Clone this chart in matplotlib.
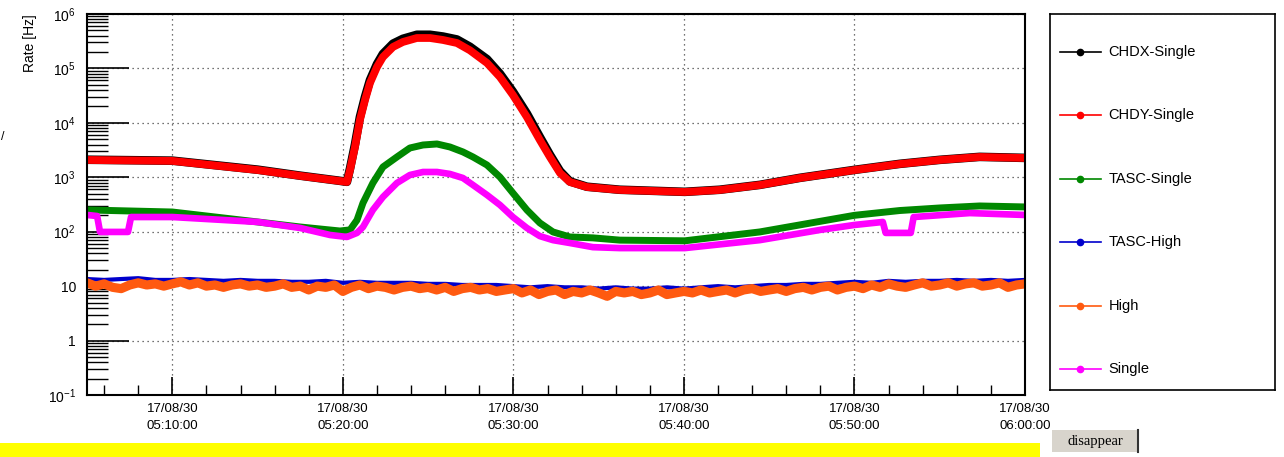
import datetime as dt
import matplotlib
matplotlib.use('Agg')
import matplotlib.pyplot as plt
import matplotlib.dates as mdates
from matplotlib.patches import Rectangle

plt.rcParams['font.family'] = ['Liberation Sans', 'DejaVu Sans']
plt.rcParams['mathtext.fontset'] = 'custom'
plt.rcParams['mathtext.rm'] = 'Liberation Sans'
plt.rcParams['mathtext.it'] = 'Liberation Sans:italic'
plt.rcParams['mathtext.bf'] = 'Liberation Sans:bold'

# rate history, minutes after 05:00 on 17/08/30
t_chd = [5.0, 10.0, 15.0, 17.5, 19.83, 20.24, 20.42, 20.71, 21.0, 21.3,
         21.59, 22.0, 22.35, 22.94, 23.52, 24.34, 25.11, 25.87, 26.69, 27.45,
         28.45, 29.21, 29.97, 30.79, 31.55, 32.14, 32.73, 33.31, 34.31, 36.24,
         40.05, 42.1, 44.45, 46.79, 50.02, 52.66, 55.0, 57.34, 60.0]
chdy = [2080, 2000, 1360, 1060, 855, 819, 1360, 3600, 11300, 26300,
        54000, 106000, 162000, 248000, 306000, 362000, 362000, 333000, 293000, 215000,
        126000, 69600, 32500, 12800, 4840, 2360, 1200, 819, 663, 585,
        537, 585, 721, 970, 1360, 1755, 2080, 2360, 2260]
chdx = [2100, 2020, 1380, 1070, 860, 825, 1450, 4000, 12800, 30000,
        61000, 120000, 185000, 285000, 350000, 415000, 415000, 385000, 340000, 250000,
        148000, 80000, 37500, 14800, 5500, 2600, 1300, 840, 670, 590,
        540, 590, 725, 975, 1370, 1765, 2090, 2370, 2270]

t_tasc = [5.0, 10.0, 15.0, 17.5, 19.83, 20.42, 20.83, 21.18, 21.76, 22.35,
          23.17, 23.93, 24.7, 25.52, 26.28, 27.04, 27.63, 28.45, 29.21, 29.97,
          30.79, 31.55, 32.32, 33.31, 34.66, 36.24, 40.05, 44.45, 50.0, 52.66,
          55.0, 57.34, 60.0]
tasc = [251, 230, 151, 122, 103, 108, 164, 337, 785, 1545,
        2360, 3450, 3920, 4090, 3600, 2920, 2360, 1680, 1010, 514,
        251, 145, 99, 80, 77, 70, 68, 99, 200, 245,
        273, 297, 285]

t_single = [5.0, 5.59, 5.76, 7.4, 7.58, 10.0, 15.0, 17.5, 19.25, 20.24,
            20.83, 21.18, 21.76, 22.35, 23.17, 23.93, 24.7, 25.52, 26.28, 27.04,
            27.63, 28.45, 29.21, 29.97, 30.79, 31.55, 32.32, 33.31, 34.66, 36.24,
            40.05, 44.45, 48.0, 50.0, 51.66, 51.83, 53.3, 53.47, 56.76, 60.0]
single = [203, 194, 99, 99, 186, 186, 151, 117, 87, 80,
          95, 122, 251, 434, 785, 1100, 1250, 1250, 1150, 970,
          721, 473, 310, 186, 117, 83, 70, 62, 52, 50,
          50, 70, 108, 133, 151, 95, 95, 186, 220, 203]

# TASC-High sampled every minute, High every half minute
t_tasc_high = [5 + i for i in range(56)]
tasc_high = [13.5, 13, 13.5, 14, 13, 13, 13.5, 13, 12.5, 13,
             12.5, 12.5, 12, 12, 12.5, 11.5, 12, 11.5, 11.5, 11.5,
             11, 11, 10.5, 10.5, 10.5, 10, 9.5, 10, 9.5, 9.5,
             9, 9.5, 9, 9, 9.5, 9, 9.5, 10, 9.5, 10,
             10.5, 10.5, 11, 11, 11.5, 12, 11.5, 12.5, 12, 12.5,
             12.5, 13, 12.5, 13, 12.5, 13]
t_high = [5 + 0.5 * i for i in range(111)]
high = [11.5, 10, 11, 9.5, 9, 10.5, 11.5, 10.5, 11, 10,
        11, 12, 10.5, 11.5, 10, 10.5, 9.5, 10.5, 11, 10,
        10.5, 9.5, 10, 11, 9.5, 10, 8.5, 10, 9.5, 10.5,
        8, 9.5, 10.5, 9, 10, 9.5, 8.5, 9.5, 10, 9,
        9.5, 8.5, 9.5, 8, 9, 9.5, 8.5, 9, 8, 8.5,
        9, 7.5, 8.5, 7, 8, 8.5, 7, 8, 7.5, 8.5,
        7.5, 6.5, 8, 7.5, 8, 7, 7.5, 8.5, 7, 7.5,
        8, 7.5, 8.5, 7.5, 8, 8.5, 7.5, 8.5, 9, 8,
        8.5, 9, 8, 9, 9.5, 8.5, 9.5, 10, 8.5, 9.5,
        10, 9, 10.5, 9.5, 11, 10, 9.5, 10.5, 11.5, 10,
        10.5, 11.5, 10, 11, 11.5, 10, 10.5, 11.5, 9.5, 10.5, 11]

names = ['CHDX-Single', 'CHDY-Single', 'TASC-Single', 'TASC-High', 'High', 'Single']
colors = ['#000000', '#ff0000', '#008800', '#0000cc', '#ff5a10', '#ff00ff']

ytick_vals = [1e-1, 1, 10, 1e2, 1e3, 1e4, 1e5, 1e6]
ytick_labels = ['$10^{-1}$', '1', '10', '$10^{2}$', '$10^{3}$', '$10^{4}$', '$10^{5}$', '$10^{6}$']

t0 = dt.datetime(2017, 8, 30, 5, 0, 0)
def to_time(mins):
    return [t0 + dt.timedelta(minutes=m) for m in mins]

fig = plt.figure(figsize=(12.84, 4.57), dpi=100)
ax = fig.add_axes([0.0678, 0.1357, 0.7305, 0.8337])

series = [(t_chd, chdx, 6.2), (t_chd, chdy, 5.6), (t_tasc, tasc, 5.0),
          (t_tasc_high, tasc_high, 3.0), (t_high, high, 6.6), (t_single, single, 4.8)]
for (tt, vals, lw), c in zip(series, colors):
    ax.plot(to_time(tt), vals, color=c, lw=lw, solid_capstyle='round', solid_joinstyle='round')

ax.set_yscale('log')
ax.set_ylim(0.1, 1e6)
ax.set_xlim(t0 + dt.timedelta(minutes=5), t0 + dt.timedelta(minutes=60))
ax.set_yticks(ytick_vals)
ax.set_yticklabels(ytick_labels)
ax.yaxis.set_minor_locator(matplotlib.ticker.LogLocator(base=10, subs=range(2, 10), numticks=20))
ax.yaxis.set_minor_formatter(matplotlib.ticker.NullFormatter())

ax.xaxis.set_major_locator(mdates.MinuteLocator(byminute=range(0, 60, 10)))
ax.xaxis.set_minor_locator(mdates.MinuteLocator(byminute=range(0, 60, 2)))
ax.xaxis.set_major_formatter(mdates.DateFormatter('%y/%m/%d\n%H:%M:%S'))

ax.tick_params(axis='y', which='major', direction='in', length=30, width=1.2, labelsize=10, pad=8)
ax.tick_params(axis='y', which='minor', direction='in', length=15, width=1.0)
ax.tick_params(axis='x', which='major', direction='in', length=13, width=1.2, labelsize=9.5, pad=6)
ax.tick_params(axis='x', which='minor', direction='in', length=7, width=1.0)
for lab in ax.get_xticklabels():
    lab.set_linespacing(1.5)
for sp in ax.spines.values():
    sp.set_linewidth(1.5)
ax.grid(True, which='major', linestyle=(0, (1, 3)), color='#444444', lw=0.9)

fig.text(0.0234, 0.9694, 'Rate [Hz]', rotation=90, ha='center', va='top', fontsize=10)
fig.text(0.001, 0.70, '/', fontsize=9, ha='left', va='center')

# legend panel
leg = fig.add_axes([0.8178, 0.1466, 0.1752, 0.8228])
leg.set_xlim(0, 1)
leg.set_ylim(0, 1)
leg.set_xticks([])
leg.set_yticks([])
for sp in leg.spines.values():
    sp.set_linewidth(1.2)
for i, (name, c) in enumerate(zip(names, colors)):
    y = 1 - (52 - 14 + i * 63.4) / 376
    leg.plot([0.045, 0.225], [y, y], color=c, lw=1.2)
    leg.plot([0.135], [y], marker='o', color=c, ms=4.5)
    leg.text(0.26, y, name, fontsize=10.5, ha='left', va='center')

# status bar and button
fig.patches.append(Rectangle((0, 0), 0.81, 0.031, transform=fig.transFigure,
                             facecolor='#ffff00', edgecolor='none'))
fig.patches.append(Rectangle((0.8193, 0.011), 0.067, 0.048, transform=fig.transFigure,
                             facecolor='#d8d4cc', edgecolor='none', zorder=5))
fig.lines.append(plt.Line2D([0.8863, 0.8863], [0.011, 0.059], transform=fig.transFigure,
                            color='#333333', lw=1.5, zorder=6))
fig.text(0.8528, 0.035, 'disappear', family=['Liberation Serif', 'DejaVu Serif'],
         fontsize=10.5, ha='center', va='center', zorder=7)

fig.savefig('out.png', dpi=100)
